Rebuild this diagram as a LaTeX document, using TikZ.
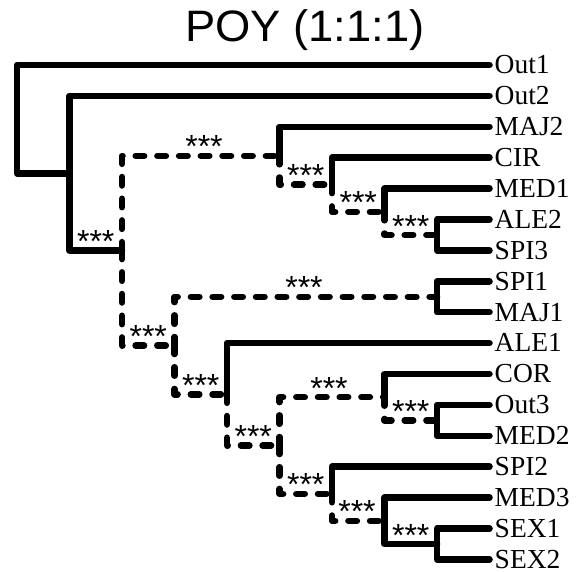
\documentclass[tikz,border=0pt]{standalone}
\usepackage{fontspec}
\setmainfont{Liberation Serif}
\newfontfamily\labsans{Liberation Sans}
\begin{document}
\begin{tikzpicture}[x=1pt,y=-1pt,
  br/.style={line width=6.5pt, line cap=round, line join=round},
  dbr/.style={br, dash pattern=on 8.5pt off 13.2pt},
  leaf/.style={anchor=base west, inner sep=0pt, font=\fontsize{27.5}{30}\selectfont, xshift=5pt, yshift=-8.8pt},
  supp/.style={anchor=base, inner sep=0pt, font=\labsans\fontsize{32}{34}\selectfont, yshift=-2pt},
  ttl/.style={anchor=base, inner sep=0pt, font=\labsans\fontsize{44}{48}\selectfont, xscale=1.03}
]
\useasboundingbox (0,0) rectangle (585,571);
\node[ttl] (title) at (305,41.7) {POY (1:1:1)};
% internal nodes
\coordinate (root) at (17,119.1);
\coordinate (n2) at (69.5,173.3);
\coordinate (n3) at (122,250.6);
\coordinate (n4) at (279.5,155.8);
\coordinate (n4a) at (332,184.7);
\coordinate (n4b) at (384.5,211.8);
\coordinate (n4c) at (437,235.0);
\coordinate (n5) at (174.5,345.5);
\coordinate (n6) at (437,296.8);
\coordinate (n7) at (227,394.3);
\coordinate (n8) at (279.5,445.5);
\coordinate (n9) at (384.5,397.2);
\coordinate (n9a) at (437,420.4);
\coordinate (n10) at (332,493.8);
\coordinate (n11) at (384.5,520.8);
\coordinate (n12) at (437,544.0);
% leaves
\foreach \nm/\yy in {Out1/65,Out2/95.9,MAJ2/126.8,CIR/157.7,MED1/188.6,ALE2/219.5,SPI3/250.4,SPI1/281.3,MAJ1/312.2,ALE1/343.1,COR/374,Out3/404.9,MED2/435.8,SPI2/466.7,MED3/497.6,SEX1/528.5,SEX2/559.4}{
  \coordinate (l\nm) at (489.5,\yy);
  \node[leaf] (t\nm) at (l\nm) {\nm};
}
% solid branches
\draw[br] (root) |- (lOut1);
\draw[br] (root) |- (n2);
\draw[br] (n2) |- (lOut2);
\draw[br] (n2) |- (n3);
\draw[br] (n4) |- (lMAJ2);
\draw[br] (n4a) |- (lCIR);
\draw[br] (n4b) |- (lMED1);
\draw[br] (n4c) |- (lALE2);
\draw[br] (n4c) |- (lSPI3);
\draw[br] (n6) |- (lSPI1);
\draw[br] (n6) |- (lMAJ1);
\draw[br] (n7) |- (lALE1);
\draw[br] (n9) |- (lCOR);
\draw[br] (n9a) |- (lOut3);
\draw[br] (n9a) |- (lMED2);
\draw[br] (n10) |- (lSPI2);
\draw[br] (n11) |- (lMED3);
\draw[br] (n11) |- (n12);
\draw[br] (n12) |- (lSEX1);
\draw[br] (n12) |- (lSEX2);
% dashed branches
\draw[dbr] (n3) |- (n4);
\draw[dbr] (n3) |- (n5);
\draw[dbr] (n4) |- (n4a);
\draw[dbr] (n4a) |- (n4b);
\draw[dbr] (n4b) |- (n4c);
\draw[dbr] (n5) |- (n6);
\draw[dbr] (n5) |- (n7);
\draw[dbr] (n7) |- (n8);
\draw[dbr] (n8) |- (n9);
\draw[dbr] (n8) |- (n10);
\draw[dbr] (n9) |- (n9a);
\draw[dbr] (n10) |- (n11);
% support labels
\node[supp] (s1) at (95.75,250.6) {***};
\node[supp] (s2) at (204,155.8) {***};
\node[supp] (s3) at (305.75,184.7) {***};
\node[supp] (s4) at (358.25,211.8) {***};
\node[supp] (s5) at (410.75,235.0) {***};
\node[supp] (s6) at (148.25,345.5) {***};
\node[supp] (s7) at (304,296.8) {***};
\node[supp] (s8) at (200.75,394.3) {***};
\node[supp] (s9) at (253.25,445.5) {***};
\node[supp] (s10) at (329,397.2) {***};
\node[supp] (s11) at (305.75,493.8) {***};
\node[supp] (s12) at (410.75,420.4) {***};
\node[supp] (s13) at (357,520.8) {***};
\node[supp] (s14) at (410.75,544.0) {***};
\end{tikzpicture}
\end{document}
